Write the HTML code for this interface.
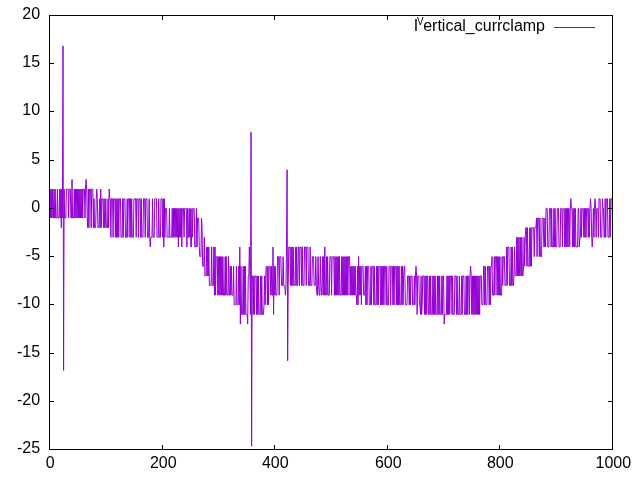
<!DOCTYPE html>
<html><head><meta charset="utf-8"><title>plot</title>
<style>html,body{margin:0;padding:0;background:#fff}svg{display:block}text{font-family:"Liberation Sans",sans-serif;font-size:16px;fill:#000}</style>
</head><body>
<svg width="640" height="480" viewBox="0 0 640 480">
<rect width="640" height="480" fill="#fff"/>
<g><text x="40.1" y="19.0" text-anchor="end">20</text><text x="40.1" y="67.0" text-anchor="end">15</text><text x="40.1" y="115.0" text-anchor="end">10</text><text x="40.1" y="164.0" text-anchor="end">5</text><text x="40.1" y="212.0" text-anchor="end">0</text><text x="40.1" y="260.0" text-anchor="end">-5</text><text x="40.1" y="308.0" text-anchor="end">-10</text><text x="40.1" y="357.0" text-anchor="end">-15</text><text x="40.1" y="405.0" text-anchor="end">-20</text><text x="40.1" y="453.0" text-anchor="end">-25</text></g>
<g><text x="50.3" y="468" text-anchor="middle">0</text><text x="163.3" y="468" text-anchor="middle">200</text><text x="275.3" y="468" text-anchor="middle">400</text><text x="388.3" y="468" text-anchor="middle">600</text><text x="500.3" y="468" text-anchor="middle">800</text><text x="613.3" y="468" text-anchor="middle">1000</text></g>
<text x="413.8" y="30.5">I</text><text transform="translate(416.9,25.2) scale(1,1.17)" style="font-size:9.8px">V</text><text x="545" y="30.5" text-anchor="end">ertical_currclamp</text>
<path d="M554 27.5H595" stroke="#9400d3" stroke-width="1" fill="none"/>
<polyline points="49.50,218.03 50.06,189.10 50.63,218.03 51.19,189.10 51.75,218.03 52.31,189.10 52.88,218.03 53.44,218.03 54.00,189.10 54.57,218.03 55.13,189.10 55.69,218.03 56.26,218.03 56.82,218.03 57.38,189.10 57.95,218.03 58.51,218.03 59.07,218.03 59.63,189.10 60.20,218.03 60.76,189.10 61.32,227.68 61.89,189.10 62.45,218.03 63.01,45.88 63.58,370.42 64.14,189.10 64.70,218.03 65.26,218.03 65.83,218.03 66.39,189.10 66.95,189.10 67.52,189.10 68.08,189.10 68.64,218.03 69.20,189.10 69.77,189.10 70.33,189.10 70.89,218.03 71.46,218.03 72.02,179.46 72.58,218.03 73.15,218.03 73.71,218.03 74.27,189.10 74.84,218.03 75.40,189.10 75.96,218.03 76.52,189.10 77.09,218.03 77.65,189.10 78.21,218.03 78.78,189.10 79.34,218.03 79.90,189.10 80.47,218.03 81.03,189.10 81.59,218.03 82.15,189.10 82.72,218.03 83.28,189.10 83.84,189.10 84.41,189.10 84.97,218.03 85.53,189.10 86.09,179.46 86.66,189.10 87.22,218.03 87.78,227.68 88.35,189.10 88.91,227.68 89.47,189.10 90.04,189.10 90.60,189.10 91.16,227.68 91.72,189.10 92.29,189.10 92.85,189.10 93.41,227.68 93.98,198.74 94.54,227.68 95.10,227.68 95.67,227.68 96.23,198.74 96.79,189.10 97.35,198.74 97.92,227.68 98.48,227.68 99.04,227.68 99.61,198.74 100.17,227.68 100.73,189.10 101.30,227.68 101.86,198.74 102.42,198.74 102.98,198.74 103.55,227.68 104.11,198.74 104.67,227.68 105.24,227.68 105.80,198.74 106.36,227.68 106.93,227.68 107.49,227.68 108.05,198.74 108.62,227.68 109.18,189.10 109.74,198.74 110.30,198.74 110.87,237.32 111.43,198.74 111.99,198.74 112.56,198.74 113.12,237.32 113.68,198.74 114.25,198.74 114.81,198.74 115.37,237.32 115.93,198.74 116.50,237.32 117.06,198.74 117.62,237.32 118.19,198.74 118.75,237.32 119.31,198.74 119.88,198.74 120.44,198.74 121.00,237.32 121.56,237.32 122.13,237.32 122.69,198.74 123.25,237.32 123.82,198.74 124.38,198.74 124.94,198.74 125.50,237.32 126.07,237.32 126.63,237.32 127.19,198.74 127.76,237.32 128.32,198.74 128.88,198.74 129.45,198.74 130.01,237.32 130.57,198.74 131.13,237.32 131.70,198.74 132.26,237.32 132.82,237.32 133.39,237.32 133.95,198.74 134.51,198.74 135.08,198.74 135.64,198.74 136.20,237.32 136.76,198.74 137.33,198.74 137.89,198.74 138.45,237.32 139.02,198.74 139.58,198.74 140.14,198.74 140.71,237.32 141.27,198.74 141.83,237.32 142.39,237.32 142.96,237.32 143.52,198.74 144.08,198.74 144.65,198.74 145.21,237.32 145.77,198.74 146.34,198.74 146.90,198.74 147.46,237.32 148.03,237.32 148.59,237.32 149.15,198.74 149.71,237.32 150.28,246.97 150.84,237.32 151.40,237.32 151.97,237.32 152.53,198.74 153.09,237.32 153.66,237.32 154.22,237.32 154.78,198.74 155.34,198.74 155.91,198.74 156.47,198.74 157.03,237.32 157.60,237.32 158.16,237.32 158.72,198.74 159.28,237.32 159.85,237.32 160.41,237.32 160.97,198.74 161.54,198.74 162.10,198.74 162.66,237.32 163.23,198.74 163.79,246.97 164.35,198.74 164.92,237.32 165.48,208.39 166.04,208.39 166.60,208.39 167.17,237.32 167.73,237.32 168.29,237.32 168.86,237.32 169.42,208.39 169.98,237.32 170.55,237.32 171.11,237.32 171.67,237.32 172.23,208.39 172.80,237.32 173.36,208.39 173.92,237.32 174.49,208.39 175.05,237.32 175.61,208.39 176.18,237.32 176.74,208.39 177.30,237.32 177.86,208.39 178.43,246.97 178.99,208.39 179.55,237.32 180.12,208.39 180.68,237.32 181.24,208.39 181.81,246.97 182.37,208.39 182.93,208.39 183.49,208.39 184.06,237.32 184.62,208.39 185.18,208.39 185.75,208.39 186.31,208.39 186.87,246.97 187.44,208.39 188.00,237.32 188.56,237.32 189.12,208.39 189.69,237.32 190.25,208.39 190.81,246.97 191.38,246.97 191.94,208.39 192.50,237.32 193.06,208.39 193.63,208.39 194.19,208.39 194.75,246.97 195.32,246.97 195.88,246.97 196.44,208.39 197.01,246.97 197.57,218.03 198.13,218.03 198.69,218.03 199.26,246.97 199.82,256.61 200.38,256.61 200.95,256.61 201.51,218.03 202.07,227.68 202.64,266.26 203.20,266.26 203.76,266.26 204.32,237.32 204.89,275.90 205.45,275.90 206.01,275.90 206.58,246.97 207.14,275.90 207.70,246.97 208.27,275.90 208.83,246.97 209.39,285.54 209.96,285.54 210.52,285.54 211.08,285.54 211.64,246.97 212.21,285.54 212.77,285.54 213.33,285.54 213.90,246.97 214.46,295.19 215.02,246.97 215.59,295.19 216.15,256.61 216.71,256.61 217.27,256.61 217.84,295.19 218.40,256.61 218.96,295.19 219.53,256.61 220.09,295.19 220.65,256.61 221.22,295.19 221.78,256.61 222.34,295.19 222.90,256.61 223.47,295.19 224.03,295.19 224.59,295.19 225.16,256.61 225.72,295.19 226.28,256.61 226.84,295.19 227.41,295.19 227.97,295.19 228.53,256.61 229.10,295.19 229.66,295.19 230.22,266.26 230.79,295.19 231.35,266.26 231.91,295.19 232.47,295.19 233.04,295.19 233.60,266.26 234.16,304.83 234.73,304.83 235.29,304.83 235.85,304.83 236.42,266.26 236.98,304.83 237.54,304.83 238.10,304.83 238.67,266.26 239.23,304.83 239.79,246.97 240.36,324.12 240.92,266.26 241.48,314.48 242.05,314.48 242.61,314.48 243.17,266.26 243.74,314.48 244.30,266.26 244.86,314.48 245.42,266.26 245.99,314.48 246.55,314.48 247.11,314.48 247.68,324.12 248.24,275.90 248.80,275.90 249.37,246.97 249.93,275.90 250.49,314.48 251.05,132.20 251.62,446.22 252.18,275.90 252.74,275.90 253.31,314.48 253.87,275.90 254.43,314.48 255.00,275.90 255.56,275.90 256.12,275.90 256.68,314.48 257.25,275.90 257.81,314.48 258.37,275.90 258.94,314.48 259.50,314.48 260.06,314.48 260.62,275.90 261.19,314.48 261.75,275.90 262.31,314.48 262.88,314.48 263.44,314.48 264.00,304.83 264.57,275.90 265.13,304.83 265.69,275.90 266.25,266.26 266.82,266.26 267.38,304.83 267.94,266.26 268.51,304.83 269.07,266.26 269.63,266.26 270.20,266.26 270.76,295.19 271.32,266.26 271.88,295.19 272.45,295.19 273.01,246.97 273.57,314.48 274.14,266.26 274.70,295.19 275.26,266.26 275.83,295.19 276.39,295.19 276.95,295.19 277.51,256.61 278.08,256.61 278.64,256.61 279.20,295.19 279.77,256.61 280.33,256.61 280.89,256.61 281.46,285.54 282.02,285.54 282.58,285.54 283.14,256.61 283.71,285.54 284.27,285.54 284.83,285.54 285.40,295.19 285.96,285.54 286.52,246.97 287.09,169.81 287.65,360.77 288.21,285.54 288.77,246.97 289.34,246.97 289.90,246.97 290.46,285.54 291.03,246.97 291.59,285.54 292.15,246.97 292.72,285.54 293.28,246.97 293.84,285.54 294.40,285.54 294.97,285.54 295.53,246.97 296.09,285.54 296.66,246.97 297.22,285.54 297.78,285.54 298.35,246.97 298.91,246.97 299.47,285.54 300.03,246.97 300.60,246.97 301.16,246.97 301.72,285.54 302.29,246.97 302.85,285.54 303.41,285.54 303.98,285.54 304.54,246.97 305.10,246.97 305.67,246.97 306.23,285.54 306.79,246.97 307.35,246.97 307.92,246.97 308.48,285.54 309.04,285.54 309.61,285.54 310.17,246.97 310.73,285.54 311.30,285.54 311.86,285.54 312.42,256.61 312.98,256.61 313.55,256.61 314.11,285.54 314.67,285.54 315.24,285.54 315.80,256.61 316.36,285.54 316.93,295.19 317.49,295.19 318.05,256.61 318.61,285.54 319.18,295.19 319.74,295.19 320.30,256.61 320.87,285.54 321.43,295.19 321.99,285.54 322.56,256.61 323.12,295.19 323.68,256.61 324.24,295.19 324.81,246.97 325.37,295.19 325.93,295.19 326.50,256.61 327.06,295.19 327.62,256.61 328.19,295.19 328.75,295.19 329.31,295.19 329.87,256.61 330.44,256.61 331.00,256.61 331.56,295.19 332.13,256.61 332.69,256.61 333.25,256.61 333.81,256.61 334.38,295.19 334.94,256.61 335.50,295.19 336.07,256.61 336.63,295.19 337.19,256.61 337.76,295.19 338.32,256.61 338.88,295.19 339.44,256.61 340.01,295.19 340.57,295.19 341.13,295.19 341.70,256.61 342.26,295.19 342.82,256.61 343.39,295.19 343.95,256.61 344.51,295.19 345.07,256.61 345.64,295.19 346.20,256.61 346.76,295.19 347.33,256.61 347.89,295.19 348.45,256.61 349.02,256.61 349.58,256.61 350.14,295.19 350.70,266.26 351.27,295.19 351.83,266.26 352.39,295.19 352.96,266.26 353.52,295.19 354.08,266.26 354.65,295.19 355.21,266.26 355.77,295.19 356.33,295.19 356.90,304.83 357.46,266.26 358.02,304.83 358.59,256.61 359.15,295.19 359.71,266.26 360.28,295.19 360.84,266.26 361.40,304.83 361.96,266.26 362.53,266.26 363.09,266.26 363.65,295.19 364.22,295.19 364.78,295.19 365.34,266.26 365.91,304.83 366.47,266.26 367.03,304.83 367.60,266.26 368.16,266.26 368.72,266.26 369.28,304.83 369.85,304.83 370.41,304.83 370.97,266.26 371.54,304.83 372.10,266.26 372.66,266.26 373.23,266.26 373.79,304.83 374.35,266.26 374.91,304.83 375.48,304.83 376.04,304.83 376.60,266.26 377.17,304.83 377.73,266.26 378.29,304.83 378.86,266.26 379.42,266.26 379.98,266.26 380.54,304.83 381.11,266.26 381.67,304.83 382.23,266.26 382.80,304.83 383.36,266.26 383.92,304.83 384.49,266.26 385.05,266.26 385.61,266.26 386.17,304.83 386.74,266.26 387.30,304.83 387.86,304.83 388.43,304.83 388.99,266.26 389.55,266.26 390.12,266.26 390.68,304.83 391.24,266.26 391.80,266.26 392.37,266.26 392.93,304.83 393.49,266.26 394.06,304.83 394.62,266.26 395.18,266.26 395.75,266.26 396.31,304.83 396.87,266.26 397.43,304.83 398.00,266.26 398.56,304.83 399.12,266.26 399.69,304.83 400.25,304.83 400.81,304.83 401.38,266.26 401.94,304.83 402.50,266.26 403.06,304.83 403.63,275.90 404.19,266.26 404.75,266.26 405.32,304.83 405.88,304.83 406.44,304.83 407.00,304.83 407.57,275.90 408.13,275.90 408.69,275.90 409.26,304.83 409.82,275.90 410.38,304.83 410.95,275.90 411.51,275.90 412.07,275.90 412.63,304.83 413.20,304.83 413.76,304.83 414.32,275.90 414.89,304.83 415.45,275.90 416.01,266.26 416.58,275.90 417.14,314.48 417.70,275.90 418.26,275.90 418.83,275.90 419.39,304.83 419.95,304.83 420.52,314.48 421.08,275.90 421.64,314.48 422.21,304.83 422.77,275.90 423.33,275.90 423.89,275.90 424.46,314.48 425.02,275.90 425.58,314.48 426.15,275.90 426.71,314.48 427.27,275.90 427.84,275.90 428.40,314.48 428.96,314.48 429.52,275.90 430.09,314.48 430.65,275.90 431.21,314.48 431.78,314.48 432.34,314.48 432.90,275.90 433.47,314.48 434.03,275.90 434.59,314.48 435.15,275.90 435.72,314.48 436.28,314.48 436.84,314.48 437.41,275.90 437.97,314.48 438.53,275.90 439.10,314.48 439.66,275.90 440.22,314.48 440.79,314.48 441.35,314.48 441.91,275.90 442.47,314.48 443.04,275.90 443.60,275.90 444.16,324.12 444.73,314.48 445.29,314.48 445.85,314.48 446.42,314.48 446.98,275.90 447.54,314.48 448.10,275.90 448.67,314.48 449.23,275.90 449.79,314.48 450.36,275.90 450.92,275.90 451.48,275.90 452.05,314.48 452.61,275.90 453.17,314.48 453.73,314.48 454.30,314.48 454.86,275.90 455.42,275.90 455.99,275.90 456.55,314.48 457.11,275.90 457.68,314.48 458.24,314.48 458.80,314.48 459.36,275.90 459.93,314.48 460.49,314.48 461.05,314.48 461.62,275.90 462.18,314.48 462.74,275.90 463.31,275.90 463.87,275.90 464.43,314.48 464.99,314.48 465.56,314.48 466.12,275.90 466.68,314.48 467.25,275.90 467.81,314.48 468.37,275.90 468.94,275.90 469.50,314.48 470.06,275.90 470.62,266.26 471.19,275.90 471.75,314.48 472.31,275.90 472.88,314.48 473.44,275.90 474.00,314.48 474.56,275.90 475.13,314.48 475.69,275.90 476.25,314.48 476.82,275.90 477.38,314.48 477.94,275.90 478.51,314.48 479.07,275.90 479.63,314.48 480.19,275.90 480.76,275.90 481.32,275.90 481.88,304.83 482.45,304.83 483.01,304.83 483.57,266.26 484.14,266.26 484.70,304.83 485.26,266.26 485.82,304.83 486.39,304.83 486.95,304.83 487.51,266.26 488.08,266.26 488.64,266.26 489.20,304.83 489.77,266.26 490.33,304.83 490.89,266.26 491.45,266.26 492.02,256.61 492.58,295.19 493.14,295.19 493.71,295.19 494.27,256.61 494.83,295.19 495.40,256.61 495.96,256.61 496.52,256.61 497.08,295.19 497.65,256.61 498.21,295.19 498.77,256.61 499.34,295.19 499.90,256.61 500.46,295.19 501.03,295.19 501.59,295.19 502.15,256.61 502.71,285.54 503.28,256.61 503.84,256.61 504.40,256.61 504.97,285.54 505.53,285.54 506.09,285.54 506.66,246.97 507.22,285.54 507.78,246.97 508.35,246.97 508.91,246.97 509.47,285.54 510.03,285.54 510.60,285.54 511.16,246.97 511.72,285.54 512.29,246.97 512.85,285.54 513.41,285.54 513.98,275.90 514.54,246.97 515.10,275.90 515.66,275.90 516.23,275.90 516.79,237.32 517.35,275.90 517.92,237.32 518.48,275.90 519.04,237.32 519.61,275.90 520.17,275.90 520.73,237.32 521.29,275.90 521.86,237.32 522.42,275.90 522.98,275.90 523.55,266.26 524.11,237.32 524.67,266.26 525.24,237.32 525.80,227.68 526.36,227.68 526.92,266.26 527.49,227.68 528.05,266.26 528.61,266.26 529.18,266.26 529.74,227.68 530.30,266.26 530.87,227.68 531.43,266.26 531.99,227.68 532.55,227.68 533.12,227.68 533.68,227.68 534.24,256.61 534.81,227.68 535.37,227.68 535.93,227.68 536.50,218.03 537.06,256.61 537.62,218.03 538.18,218.03 538.75,218.03 539.31,256.61 539.87,218.03 540.44,256.61 541.00,256.61 541.56,256.61 542.12,218.03 542.69,218.03 543.25,218.03 543.81,246.97 544.38,246.97 544.94,218.03 545.50,246.97 546.07,208.39 546.63,208.39 547.19,208.39 547.75,246.97 548.32,246.97 548.88,246.97 549.44,208.39 550.01,208.39 550.57,208.39 551.13,246.97 551.70,208.39 552.26,246.97 552.82,246.97 553.38,246.97 553.95,208.39 554.51,246.97 555.07,208.39 555.64,246.97 556.20,246.97 556.76,246.97 557.33,208.39 557.89,208.39 558.45,208.39 559.01,246.97 559.58,246.97 560.14,246.97 560.70,208.39 561.27,208.39 561.83,208.39 562.39,246.97 562.96,208.39 563.52,208.39 564.08,208.39 564.64,246.97 565.21,208.39 565.77,246.97 566.33,208.39 566.90,246.97 567.46,208.39 568.02,246.97 568.59,208.39 569.15,208.39 569.71,246.97 570.27,208.39 570.84,198.74 571.40,208.39 571.96,208.39 572.53,246.97 573.09,208.39 573.65,246.97 574.22,208.39 574.78,246.97 575.34,208.39 575.90,246.97 576.47,246.97 577.03,246.97 577.59,246.97 578.16,208.39 578.72,208.39 579.28,246.97 579.85,237.32 580.41,237.32 580.97,208.39 581.53,237.32 582.10,208.39 582.66,208.39 583.22,208.39 583.79,237.32 584.35,208.39 584.91,237.32 585.48,208.39 586.04,237.32 586.60,208.39 587.16,208.39 587.73,208.39 588.29,237.32 588.85,208.39 589.42,237.32 589.98,208.39 590.54,198.74 591.11,208.39 591.67,237.32 592.23,246.97 592.79,237.32 593.36,208.39 593.92,237.32 594.48,208.39 595.05,198.74 595.61,208.39 596.17,237.32 596.74,208.39 597.30,208.39 597.86,208.39 598.42,237.32 598.99,198.74 599.55,198.74 600.11,198.74 600.68,237.32 601.24,237.32 601.80,237.32 602.37,198.74 602.93,208.39 603.49,208.39 604.05,237.32 604.62,237.32 605.18,198.74 605.74,237.32 606.31,198.74 606.87,198.74 607.43,198.74 608.00,237.32 608.56,237.32 609.12,237.32 609.68,198.74 610.25,237.32 610.81,198.74 611.37,198.74 611.94,198.74 612.50,218.03" stroke="#9400d3" stroke-width="1.0" fill="none" stroke-linejoin="miter" stroke-miterlimit="10"/>
<path d="M49.5 15.5h4.5M612.5 15.5h-4.5M49.5 63.5h4.5M612.5 63.5h-4.5M49.5 111.5h4.5M612.5 111.5h-4.5M49.5 160.5h4.5M612.5 160.5h-4.5M49.5 208.5h4.5M612.5 208.5h-4.5M49.5 256.5h4.5M612.5 256.5h-4.5M49.5 304.5h4.5M612.5 304.5h-4.5M49.5 353.5h4.5M612.5 353.5h-4.5M49.5 401.5h4.5M612.5 401.5h-4.5M49.5 449.5h4.5M612.5 449.5h-4.5M49.5 449.5v-4.5M49.5 15.5v4.5M162.5 449.5v-4.5M162.5 15.5v4.5M274.5 449.5v-4.5M274.5 15.5v4.5M387.5 449.5v-4.5M387.5 15.5v4.5M499.5 449.5v-4.5M499.5 15.5v4.5M612.5 449.5v-4.5M612.5 15.5v4.5" stroke="#000" stroke-width="1" fill="none"/>
<rect x="49.5" y="15.5" width="563.0" height="434.0" fill="none" stroke="#000" stroke-width="1"/>
</svg>
</body></html>
